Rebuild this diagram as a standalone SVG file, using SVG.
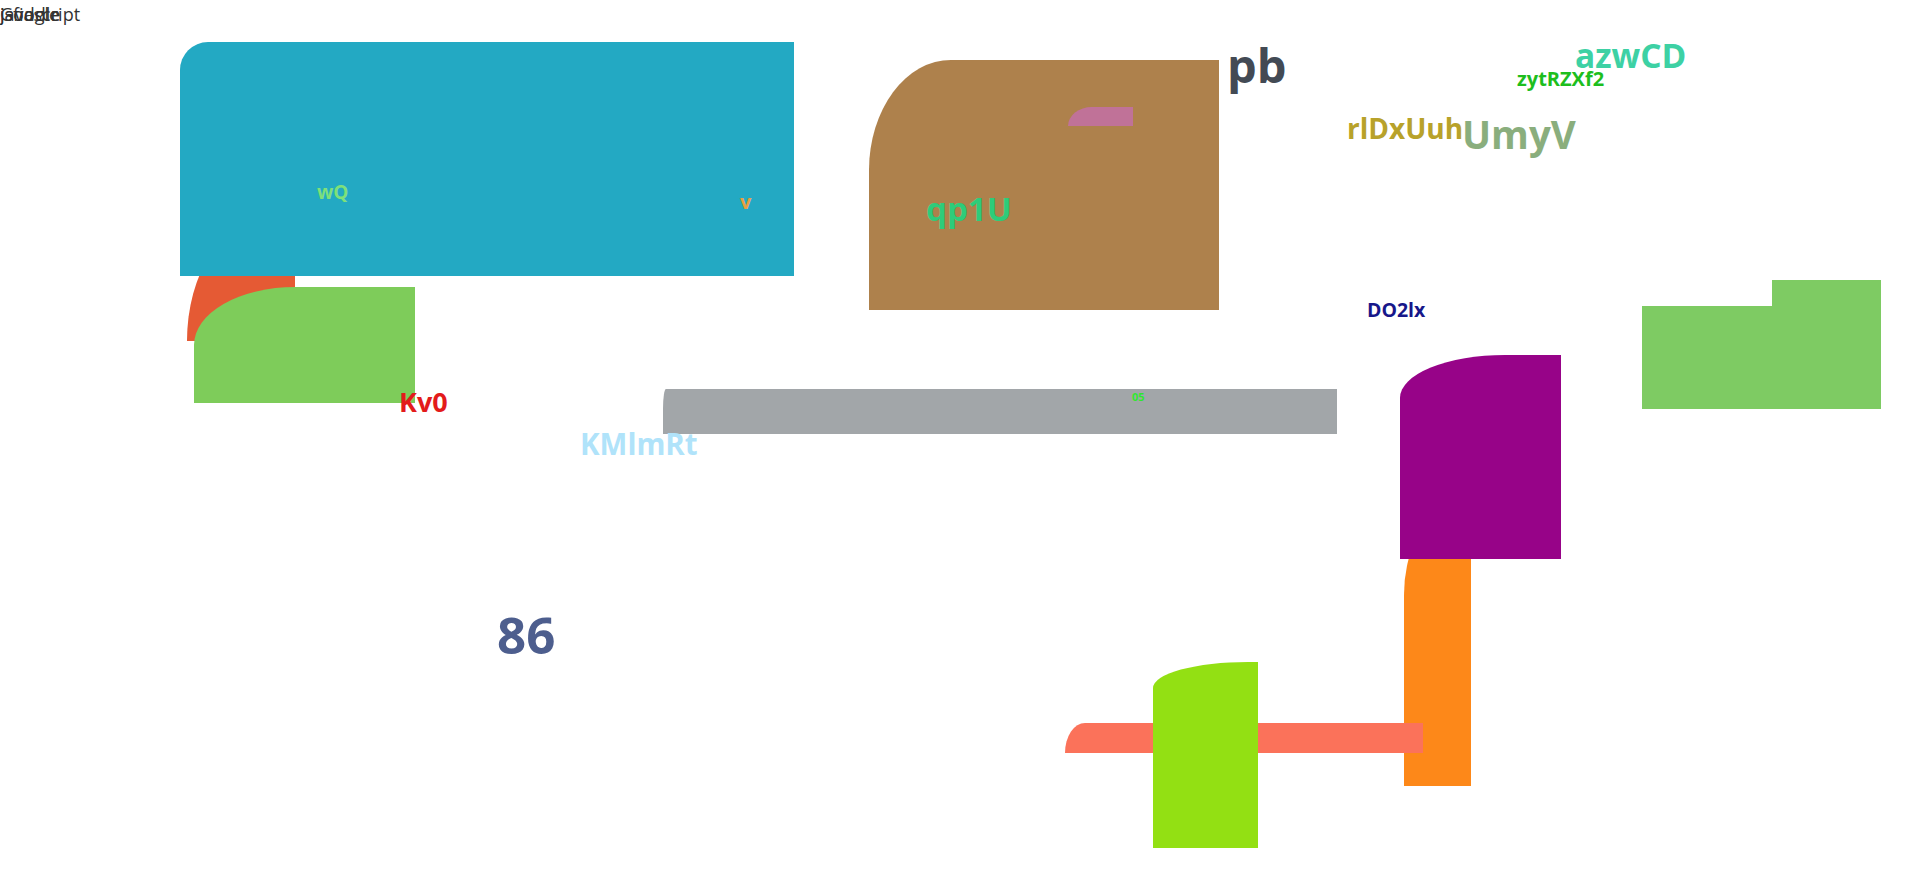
<svg xmlns="http://www.w3.org/2000/svg" width="1920" height="870" viewBox="0 0 1920 870">
<style>
  text { font-family: "Open Sans", "Noto Sans", "DejaVu Sans", sans-serif; font-weight: 700; }
  .hdr { font-weight: 400; font-size: 18px; fill: #333333; }
</style>
<rect width="1920" height="870" fill="#ffffff"/>
<g id="header">
  <text class="hdr" x="0" y="21">jsfiddle</text>
  <text class="hdr" x="0" y="21">Google</text>
  <text class="hdr" x="0" y="21">javascript</text>
</g>
<g id="node-redorange"><path d="M187,341 A80,123 0 0 1 267,218 H295 V341 Z" fill="#E55A34"/></g>
<g id="node-cyan">
  <path d="M180,276 V70 A28,28 0 0 1 208,42 H794 V276 Z" fill="#23A9C3"/>
  <text x="317" y="199" font-size="19" fill="#7EE07A">wQ</text>
  <text x="740" y="209" font-size="20" fill="#E8A040">v</text>
</g>
<g id="node-green1">
  <path d="M194,403 V345 A101,58 0 0 1 295,287 H415 V403 Z" fill="#7ECC5A"/>
</g>
<g id="node-brown">
  <path d="M869,310 V170 A82,110 0 0 1 951,60 H1219 V310 Z" fill="#AE814C"/>
  <path d="M1068,126 A24,19 0 0 1 1092,107 H1133 V126 Z" fill="#C07298"/>
  <text x="926" y="221" font-size="33" fill="#2ECC7A">qp1U</text>
</g>
<g id="node-gray">
  <path d="M663,434 V409 A3,20 0 0 1 666,389 H1337 V434 Z" fill="#A2A6A9"/>
  <text x="1132" y="401" font-size="11" fill="#2FE82F">05</text>
</g>
<g id="node-orange"><path d="M1404,786 V595 A40,77 0 0 1 1444,518 H1471 V786 Z" fill="#FD8819"/></g>
<g id="node-purple"><path d="M1400,559 V398 A105,43 0 0 1 1505,355 H1561 V559 Z" fill="#970388"/></g>
<g id="node-salmon"><path d="M1065,753 A20,30 0 0 1 1085,723 H1423 V753 Z" fill="#FB725A"/></g>
<g id="node-lime"><path d="M1153,848 V688 A95,26 0 0 1 1248,662 H1258 V848 Z" fill="#93E013"/></g>
<g id="node-greenright"><path d="M1642,409 V306 H1772 V280 H1881 V409 Z" fill="#7ECB63"/></g>
<g id="labels">
  <text x="399" y="412" font-size="27" fill="#E31B1B">Kv0</text>
  <text x="580" y="455" font-size="29.5" fill="#B0E3FA">KMlmRt</text>
  <text x="497" y="654" font-size="51" fill="#4D5E8E">86</text>
  <text x="1227" y="83" font-size="47" fill="#434A54">pb</text>
  <text x="1575" y="68" font-size="33.5" fill="#3DD1A4">azwCD</text>
  <text x="1517" y="86" font-size="20" fill="#1DBE1D">zytRZXf2</text>
  <text x="1347" y="139" font-size="28" fill="#B8A22A">rlDxUuh</text>
  <text x="1462" y="149" font-size="38.5" fill="#8AAE7D">UmyV</text>
  <text x="1367" y="317" font-size="19.5" fill="#17178A">DO2lx</text>
</g>
<g id="connectors"></g>
</svg>
